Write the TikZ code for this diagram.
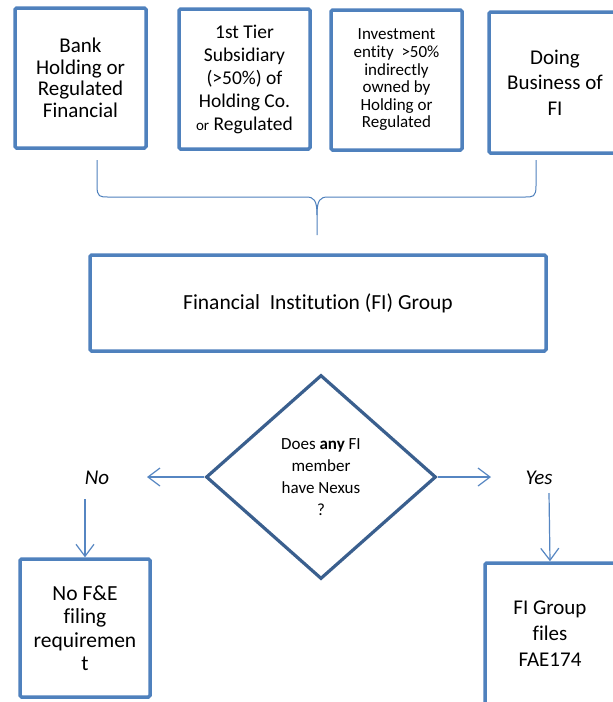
\documentclass[tikz,border=0pt]{standalone}
\usepackage{fontspec}
\setmainfont{Carlito}[Ligatures=NoCommon]
\usetikzlibrary{shapes.geometric,arrows.meta}
\definecolor{boxblue}{HTML}{4F81BD}
\definecolor{dmdblue}{HTML}{3A5F8E}
\definecolor{arrblue}{HTML}{5686C2}
\begin{document}
\begin{tikzpicture}[x=1pt,y=-1pt,
  bx/.style={draw=boxblue,line width=3.5pt,rounded corners=1.5pt,inner sep=0pt,align=center,text=black},
  dmd/.style={diamond,draw=dmdblue,line width=3.2pt,inner sep=0pt,align=center,minimum width=230pt,minimum height=204pt},
  arr/.style={draw=arrblue,line width=1.2pt,-{Straight Barb[length=12pt,width=18pt,line width=1.2pt]}},
  lbl/.style={inner sep=0pt,font=\fontsize{21}{24}\selectfont\itshape}]
\useasboundingbox (0,0) rectangle (613,702);
\clip (0,0) rectangle (613,702);
\fill[white] (0,0) rectangle (613,702);
% top boxes
\node[bx,minimum width=131pt,minimum height=140pt,font=\fontsize{21}{21.5}\selectfont] (b1) at (80.5,78) {Bank\\Holding or\\Regulated\\Financial};
\node[bx,minimum width=131pt,minimum height=140pt,font=\fontsize{19.5}{23}\selectfont] (b2) at (244.5,79) {1st Tier\\Subsidiary\\(>50\%) of\\Holding Co.\\{\fontsize{15}{23}\selectfont or} Regulated};
\node[bx,minimum width=131pt,minimum height=140pt,font=\fontsize{17}{17.6}\selectfont] (b3) at (396.5,80) {Investment\\entity\ \ >50\%\\indirectly\\owned by\\Holding or\\Regulated};
\node[bx,minimum width=132pt,minimum height=141pt,font=\fontsize{21}{25.5}\selectfont] (b4) at (555,82.5) {Doing\\Business of\\FI};
% brace
\draw[boxblue,line width=1pt] (97,160) -- (97,186) .. controls (97,197) and (100,197) .. (108,197)
  -- (306,197) .. controls (314,197) and (317,200) .. (317,215) -- (317,235);
\draw[boxblue,line width=1pt] (536,160) -- (536,186) .. controls (536,197) and (533,197) .. (525,197)
  -- (328,197) .. controls (320,197) and (317,200) .. (317,215);
% FI group
\node[bx,minimum width=456pt,minimum height=96pt,font=\fontsize{21.5}{24}\selectfont] (fig) at (318,303) {Financial\ \ Institution (FI) Group};
% diamond
\node[dmd,font=\fontsize{17}{22}\selectfont] (q) at (321,477) {Does \textbf{any} FI\\member\\have Nexus\\?};
% labels
\node[lbl] (nolbl) at (97,478) {No};
\node[lbl] (yeslbl) at (539,478) {Yes};
\coordinate (noend) at (147,477);
\coordinate (yesend) at (491,477);
\coordinate (nostart) at (85,499);
\coordinate (yesstart) at (549,493);
% bottom boxes
\node[bx,minimum width=130pt,minimum height=138pt,font=\fontsize{21.5}{23.5}\selectfont] (nobox) at (85,628) {No F\&E\\filing\\requiremen\\t};
\node[bx,minimum width=130pt,minimum height=142pt,font=\fontsize{21}{26}\selectfont] (yesbox) at (550,634) {FI Group\\files\\FAE174};
% arrows
\draw[arr] (q.west) -- (noend);
\draw[arr] (q.east) -- (yesend);
\draw[arr] (nostart) -- (nobox.north);
\draw[arr] (yesstart) -- (yesbox.north);
\end{tikzpicture}
\end{document}
